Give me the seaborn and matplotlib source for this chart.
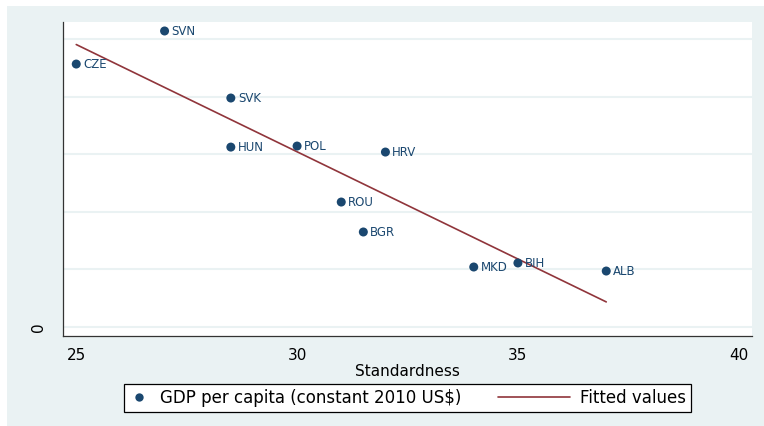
import numpy as np
import pandas as pd
import matplotlib
matplotlib.use("Agg")
import matplotlib.pyplot as plt
import seaborn as sns
from matplotlib.patches import Rectangle
from matplotlib.lines import Line2D
from matplotlib.legend_handler import HandlerLine2D

# データ (値は図から読み取り)
countries = ["SVN", "CZE", "SVK", "HUN", "POL", "HRV", "ROU", "BGR", "MKD", "BIH", "ALB"]
standardness = [27.0, 25.0, 28.5, 28.5, 30.0, 32.0, 31.0, 31.5, 34.0, 35.0, 37.0]
gdp_pc = [25700, 22830, 19880, 15620, 15710, 15190, 10850, 8250, 5210, 5560, 4860]

y_ticks = [0, 5000, 10000, 15000, 20000, 25000]
y_ticklabels = ["0", "", "", "", "", ""]
x_ticks = [25, 30, 35, 40]

df = pd.DataFrame({"country": countries, "x": standardness, "y": gdp_pc})

navy = "#1a476f"
maroon = "#90353b"
bg = "#eaf2f3"

sns.set_style("white")
plt.rcParams["font.family"] = ["DejaVu Sans"]
plt.rcParams["text.color"] = "black"
plt.rcParams["xtick.color"] = "black"
plt.rcParams["ytick.color"] = "black"
plt.rcParams["axes.labelcolor"] = "black"


# 凡例の線を左に長く伸ばす
class LongLine(HandlerLine2D):
    def create_artists(self, legend, orig_handle, xdescent, ydescent,
                       width, height, fontsize, trans):
        y = height / 2 - ydescent
        ln = Line2D([-xdescent - 36, width - xdescent], [y, y])
        self.update_prop(ln, orig_handle, legend)
        ln.set_transform(trans)
        return [ln]


fig = plt.figure(figsize=(7.64, 4.26), dpi=100, facecolor="white")
# stata風の背景
fig.patches.append(Rectangle((7 / 764, 0), 1 - 7 / 764, 1 - 6 / 426,
                             transform=fig.transFigure, facecolor=bg,
                             edgecolor="none", zorder=-10))
ax = fig.add_axes([63 / 764, 1 - 336 / 426, (752 - 63) / 764, (336 - 22) / 426])
ax.set_facecolor("white")

sns.scatterplot(data=df, x="x", y="y", ax=ax, color=navy, s=42,
                edgecolor="none", zorder=3, legend=False)
sns.regplot(data=df, x="x", y="y", ax=ax, scatter=False, ci=None,
            line_kws={"color": maroon, "lw": 1.2})

for c, xv, yv in zip(countries, standardness, gdp_pc):
    ax.annotate(c, (xv, yv), xytext=(5, -0.5), textcoords="offset points",
                va="center", ha="left", fontsize=8.5, color=navy, zorder=4)

ax.set_xlim(24.7, 40.3)
ax.set_ylim(-780, 26480)
ax.set_xticks(x_ticks)
ax.set_yticks(y_ticks)
ax.set_yticklabels(y_ticklabels, rotation=90, va="center")
ax.tick_params(axis="both", labelsize=11, length=5, width=0.8, color="#333333",
               direction="out")
ax.tick_params(axis="y", pad=7)
ax.tick_params(axis="x", pad=4)
ax.grid(axis="y", color=bg, lw=1.5)
ax.grid(axis="x", visible=False)
ax.set_axisbelow(True)
for s in ["top", "right"]:
    ax.spines[s].set_visible(False)
for s in ["left", "bottom"]:
    ax.spines[s].set_color("#333333")
    ax.spines[s].set_linewidth(0.9)

ax.set_xlabel("Standardness", fontsize=11, labelpad=0)
ax.set_ylabel("")

h_pts = Line2D([], [], ls="none", marker="o", color=navy, markersize=6,
               markeredgewidth=0)
h_fit = Line2D([], [], color=maroon, lw=1.2)
leg = fig.legend([h_pts, h_fit],
                 ["GDP per capita (constant 2010 US$)", "Fitted values"],
                 loc="center", bbox_to_anchor=(0.533, 0.066),
                 ncol=2, fontsize=12, frameon=True, fancybox=False, framealpha=1,
                 handlelength=1.3, handletextpad=0.6, columnspacing=5.2,
                 borderpad=0.3, handler_map={h_fit: LongLine()})
leg.get_frame().set_edgecolor("black")
leg.get_frame().set_linewidth(0.9)
leg.get_frame().set_facecolor("white")

fig.savefig("out.png", dpi=100, facecolor=fig.get_facecolor())
